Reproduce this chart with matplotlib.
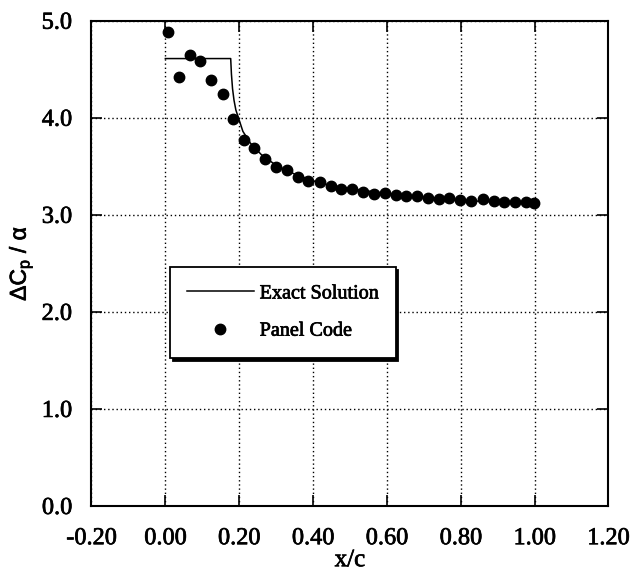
import matplotlib.pyplot as plt
import matplotlib.patheffects as pe
import numpy as np

# exact solution
exact_x = [0.0, 0.177, 0.179, 0.182, 0.186, 0.191, 0.198, 0.21, 0.23, 0.26, 0.30,
           0.35, 0.40, 0.45, 0.50, 0.60, 0.70, 0.80, 0.90, 1.0]
exact_y = [4.61, 4.61, 4.45, 4.30, 4.18, 4.08, 4.00, 3.86, 3.74, 3.62, 3.51,
           3.42, 3.35, 3.30, 3.27, 3.22, 3.18, 3.15, 3.13, 3.12]

# panel code results
panel_x = [0.006, 0.037, 0.067, 0.095, 0.125, 0.155, 0.184, 0.212, 0.240, 0.270,
           0.299, 0.330, 0.358, 0.387, 0.418, 0.448, 0.476, 0.506, 0.535, 0.564,
           0.594, 0.624, 0.652, 0.682, 0.711, 0.740, 0.769, 0.799, 0.829, 0.860,
           0.889, 0.918, 0.948, 0.977, 0.999]
panel_y = [4.88, 4.42, 4.65, 4.58, 4.39, 4.24, 3.99, 3.77, 3.69, 3.58,
           3.49, 3.46, 3.39, 3.35, 3.34, 3.30, 3.27, 3.27, 3.24, 3.21,
           3.22, 3.20, 3.19, 3.19, 3.17, 3.16, 3.17, 3.15, 3.14, 3.16,
           3.14, 3.13, 3.13, 3.13, 3.12]

x_ticks = [-0.2, 0.0, 0.2, 0.4, 0.6, 0.8, 1.0, 1.2]
y_ticks = [0.0, 1.0, 2.0, 3.0, 4.0, 5.0]

plt.rcParams['mathtext.fontset'] = 'custom'
plt.rcParams['mathtext.rm'] = 'Liberation Sans'
plt.rcParams['mathtext.it'] = 'Liberation Sans'

serif = 'Liberation Serif'
thick = [pe.withStroke(linewidth=0.5, foreground='black')]

fig = plt.figure(figsize=(6.3, 5.77), dpi=100)
ax = fig.add_axes([0.1452, 0.1231, 0.8206, 0.841])

ax.plot(exact_x, exact_y, color='black', lw=1.1, label='Exact Solution')
ax.plot(panel_x, panel_y, 'o', color='black', ms=7.5, label='Panel Code')

ax.set_xlim(-0.2, 1.2)
ax.set_ylim(0.0, 5.0)
ax.set_xticks(x_ticks)
ax.set_yticks(y_ticks)
ax.set_xticklabels([f'{v:.2f}' for v in x_ticks], fontfamily=serif, fontsize=17.5, path_effects=thick)
ax.set_yticklabels([f'{v:.1f}' for v in y_ticks], fontfamily=serif, fontsize=17.5, path_effects=thick)
ax.tick_params(direction='in', length=8, width=1.2, top=True, right=True)
ax.tick_params(axis='x', pad=16)
ax.tick_params(axis='y', pad=14)

ax.grid(True, color='black', linestyle=(0, (1, 2)), linewidth=1.0)
for s in ax.spines.values():
    s.set_linewidth(1.5)

ax.set_xlabel('x/c', fontfamily=serif, fontsize=18, labelpad=0, path_effects=thick)
ax.set_ylabel(r'$\Delta C_p\ /\ \alpha$', fontsize=16.5, labelpad=5, path_effects=thick)

leg = ax.legend(loc='upper left', bbox_to_anchor=(0.152, 0.492), fancybox=False,
                shadow={'color': 'black', 'alpha': 1.0}, framealpha=1,
                edgecolor='black', handlelength=3.3, handletextpad=0.3,
                borderpad=0.85, labelspacing=0.9, borderaxespad=0,
                prop={'family': serif, 'size': 14.5})
leg.get_frame().set_linewidth(1.3)
for t in leg.get_texts():
    t.set_path_effects(thick)

fig.savefig('out.png', dpi=100)
